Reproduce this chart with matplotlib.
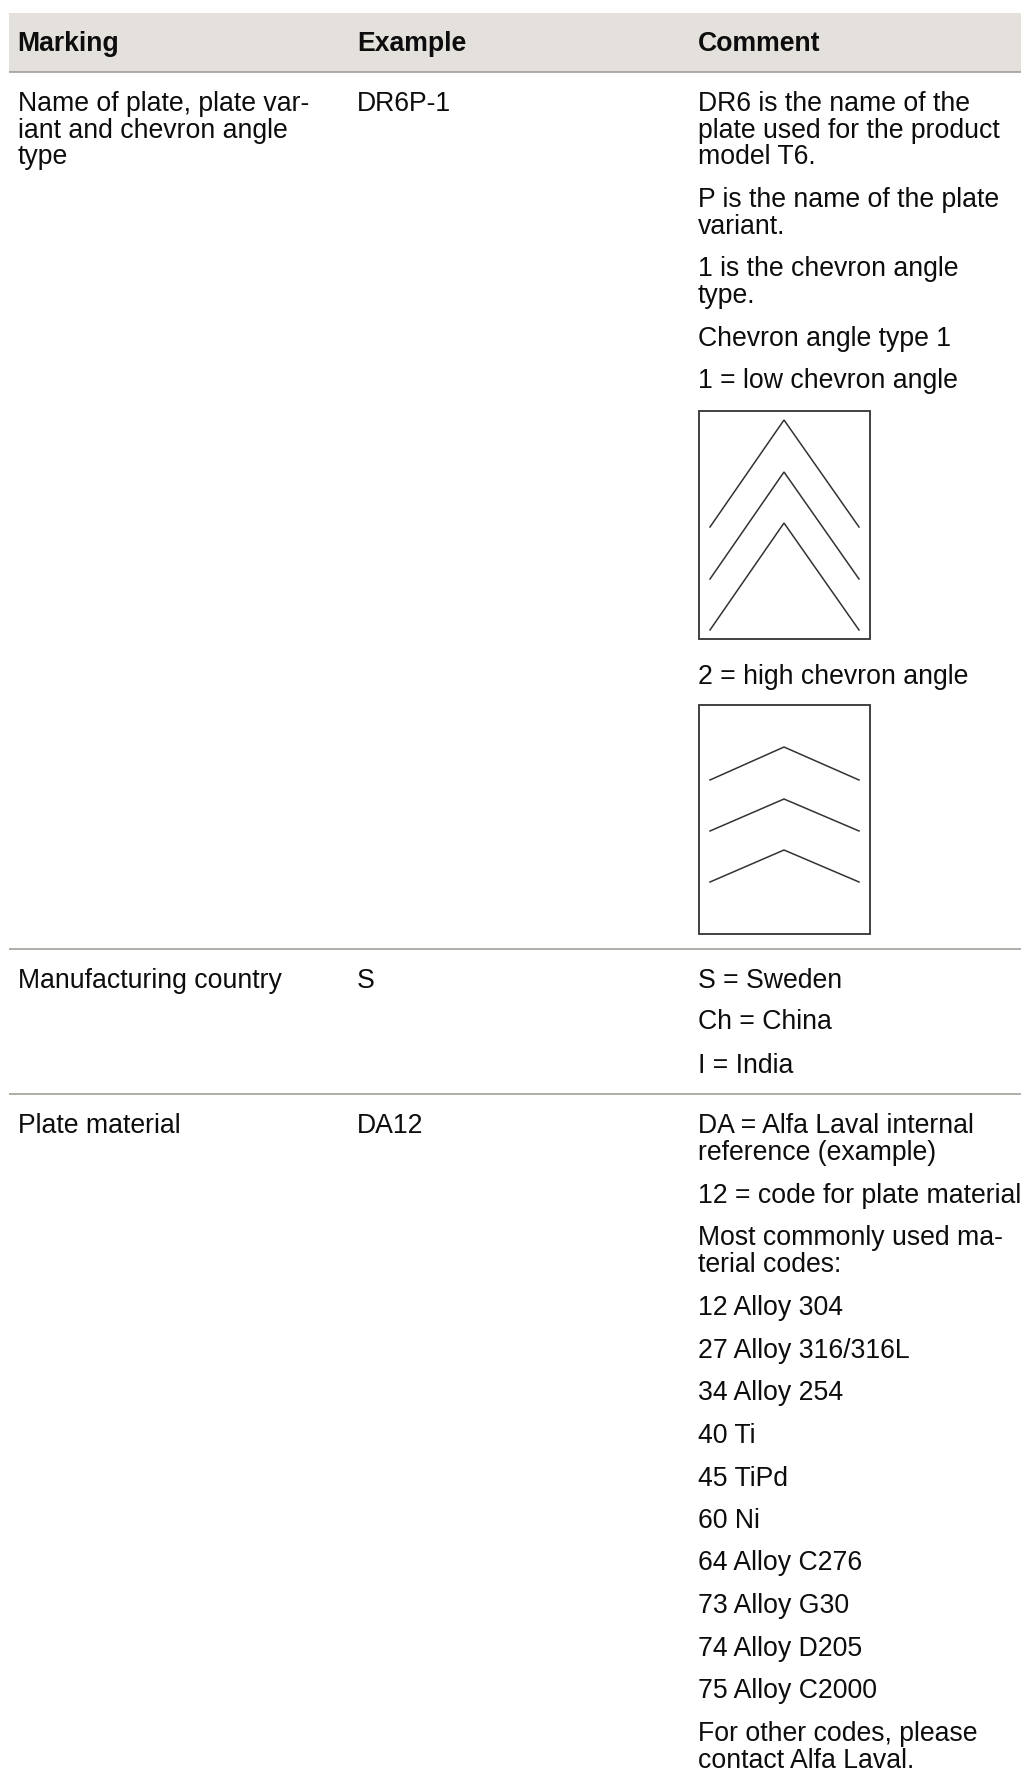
"""Marking table with chevron angle sketches."""

import matplotlib

matplotlib.use("Agg")
import matplotlib.pyplot as plt
from matplotlib.patches import Rectangle

plt.rcParams["font.family"] = ["Liberation Sans", "DejaVu Sans"]

# table text
headers = ["Marking", "Example", "Comment"]
markings = [
    ["Name of plate, plate var-", "iant and chevron angle", "type"],
    ["Manufacturing country"],
    ["Plate material"],
]
examples = ["DR6P-1", "S", "DA12"]
comments_top = [
    "DR6 is the name of the",
    "plate used for the product",
    "model T6.",
    "P is the name of the plate",
    "variant.",
    "1 is the chevron angle",
    "type.",
    "Chevron angle type 1",
    "1 = low chevron angle",
    "2 = high chevron angle",
]
comments_country = ["S = Sweden", "Ch = China", "I = India"]
comments_material = [
    "DA = Alfa Laval internal",
    "reference (example)",
    "12 = code for plate material",
    "Most commonly used ma-",
    "terial codes:",
    "12 Alloy 304",
    "27 Alloy 316/316L",
    "34 Alloy 254",
    "40 Ti",
    "45 TiPd",
    "60 Ni",
    "64 Alloy C276",
    "73 Alloy G30",
    "74 Alloy D205",
    "75 Alloy C2000",
    "For other codes, please",
    "contact Alfa Laval.",
]

# text baselines, in pixels from the top
baselines_top = [110, 137, 163, 206, 233, 275, 302, 345, 387, 683]
baselines_country = [987, 1028, 1072]
baselines_material = [
    1132, 1159, 1202, 1244, 1271, 1314, 1357, 1399, 1442,
    1485, 1527, 1569, 1612, 1655, 1697, 1740, 1767,
]
marking_baselines = [[110, 137, 163], [987], [1132]]

# chevron sketches: (box top, box bottom), apex heights, end heights
box_spans = [(410.5, 639), (705, 933.5)]
chevron_apex = [[420, 472, 523], [747, 799, 850]]
chevron_ends = [[527, 579, 630], [780, 831, 882]]

column_x = [17.5, 357, 698]
rule_y = [72, 949, 1094]
FONT_PT = 19.15
BASELINE_SHIFT = 0.7
INK = "#0d0d0d"
LINE = "#333333"

fig = plt.figure(figsize=(10.21, 17.8), dpi=100, facecolor="white")
ax = fig.add_axes([0, 0, 1, 1])
ax.set_xlim(0, 1021)
ax.set_ylim(1780, 0)
ax.axis("off")

ax.add_patch(Rectangle((9, 13), 1012, 59, facecolor="#e4e0dc", edgecolor="none"))
for y in rule_y:
    ax.plot([9, 1021], [y, y], color="#a39e99", lw=1.2, solid_capstyle="butt")


def put_text(x, y, s, **kwargs):
    ax.text(
        x, y + BASELINE_SHIFT, s, fontsize=FONT_PT, color=INK, ha="left", va="baseline", **kwargs
    )


for x, label in zip(column_x, headers):
    put_text(x, 50, label, fontweight="bold")

for lines, ys in zip(markings, marking_baselines):
    for line, y in zip(lines, ys):
        put_text(column_x[0], y, line)

for label, y in zip(examples, [110, 987, 1132]):
    put_text(column_x[1], y, label)

for lines, ys in [
    (comments_top, baselines_top),
    (comments_country, baselines_country),
    (comments_material, baselines_material),
]:
    for line, y in zip(lines, ys):
        put_text(column_x[2], y, line)

for (top, bottom), apexes, ends in zip(box_spans, chevron_apex, chevron_ends):
    ax.add_patch(
        Rectangle((698.5, top), 171.5, bottom - top, facecolor="none", edgecolor=LINE, lw=1.3)
    )
    for apex, end in zip(apexes, ends):
        ax.plot([710, 784, 859], [end, apex, end], color=LINE, lw=1.1, solid_joinstyle="miter")

fig.savefig("out.png", dpi=100)
